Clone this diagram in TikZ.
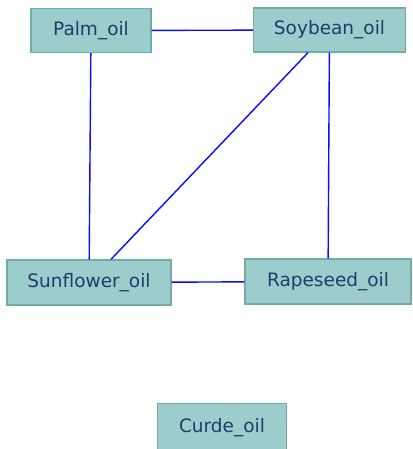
\documentclass[tikz,border=0pt]{standalone}
\usepackage{fontspec}
\setmainfont{DejaVu Sans}
\definecolor{boxfill}{HTML}{9CCCCC}
\definecolor{boxline}{HTML}{72AAAA}
\definecolor{boxtext}{HTML}{1E3C6C}
\definecolor{edgeblue}{HTML}{0A0AFF}
\begin{document}
\begin{tikzpicture}[x=1pt,y=-1pt,
  oilbox/.style={draw=boxline,fill=boxfill,line width=1.2pt,inner sep=0pt,
    text=boxtext,font=\fontsize{18.5}{20}\selectfont},
  link/.style={draw=edgeblue,line width=1.4pt}]
\useasboundingbox (0,0) rectangle (412,449);
\node[oilbox,minimum width=120pt,minimum height=44pt] (palm) at (91,30.5) {Palm\_oil};
\node[oilbox,minimum width=152pt,minimum height=44pt] (soy) at (329.5,30) {Soybean\_oil};
\node[oilbox,minimum width=164pt,minimum height=45pt] (sun) at (89,282.5) {Sunflower\_oil};
\node[oilbox,minimum width=166pt,minimum height=45pt] (rape) at (328,281.5) {Rapeseed\_oil};
\node[oilbox,minimum width=129pt,minimum height=48pt] (curde) at (222,427.5) {Curde\_oil};
\draw[link] (palm) -- (soy);
\draw[link] (palm) -- (sun);
\draw[link] (soy) -- (sun);
\draw[link] (soy) -- (rape);
\draw[link] (sun) -- (rape);
\end{tikzpicture}
\end{document}
